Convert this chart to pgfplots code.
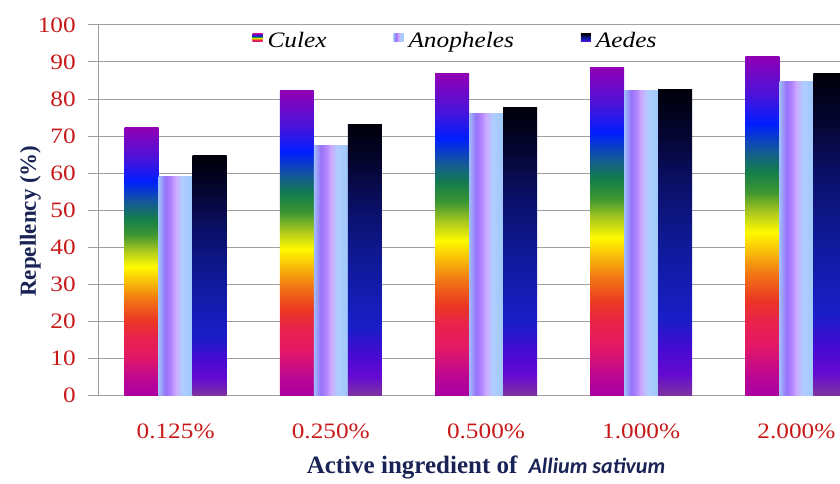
\documentclass[border=0pt]{standalone}
\usepackage{pgfplots}
\pgfplotsset{compat=1.18}
\usepackage{fontspec}
\setmainfont{Liberation Serif}
\newfontfamily\wideserif[FakeStretch=1.15]{Liberation Serif}
\newfontfamily\carlito{Carlito}

\definecolor{tickred}{RGB}{200,25,25}
\definecolor{navy}{RGB}{25,35,85}
\definecolor{gridgray}{RGB}{160,160,160}

\pgfdeclareverticalshading{culex}{100bp}{%
 color(0bp)=(rgb,255:red,170;green,0;blue,160);
 color(25bp)=(rgb,255:red,170;green,0;blue,160);
 color(27.5bp)=(rgb,255:red,185;green,5;blue,150);
 color(32.5bp)=(rgb,255:red,228;green,25;blue,100);
 color(36bp)=(rgb,255:red,232;green,35;blue,75);
 color(39bp)=(rgb,255:red,235;green,55;blue,35);
 color(43bp)=(rgb,255:red,242;green,120;blue,20);
 color(46bp)=(rgb,255:red,248;green,185;blue,10);
 color(49bp)=(rgb,255:red,255;green,250;blue,0);
 color(52bp)=(rgb,255:red,170;green,200;blue,30);
 color(55bp)=(rgb,255:red,60;green,150;blue,50);
 color(58bp)=(rgb,255:red,20;green,125;blue,75);
 color(61bp)=(rgb,255:red,20;green,90;blue,150);
 color(65bp)=(rgb,255:red,0;green,30;blue,255);
 color(69bp)=(rgb,255:red,70;green,20;blue,220);
 color(75bp)=(rgb,255:red,145;green,0;blue,180);
 color(100bp)=(rgb,255:red,145;green,0;blue,180)}

\pgfdeclarehorizontalshading{anoph}{100bp}{%
 color(0bp)=(rgb,255:red,160;green,190;blue,250);
 color(25bp)=(rgb,255:red,160;green,190;blue,250);
 color(35bp)=(rgb,255:red,150;green,115;blue,250);
 color(42.5bp)=(rgb,255:red,175;green,130;blue,255);
 color(50bp)=(rgb,255:red,205;green,170;blue,255);
 color(60bp)=(rgb,255:red,175;green,205;blue,255);
 color(75bp)=(rgb,255:red,160;green,200;blue,250);
 color(100bp)=(rgb,255:red,160;green,200;blue,250)}

\pgfdeclareverticalshading{aedes}{100bp}{%
 color(0bp)=(rgb,255:red,125;green,50;blue,160);
 color(25bp)=(rgb,255:red,125;green,50;blue,160);
 color(28.5bp)=(rgb,255:red,100;green,10;blue,210);
 color(32.5bp)=(rgb,255:red,70;green,10;blue,210);
 color(37.5bp)=(rgb,255:red,25;green,30;blue,200);
 color(50bp)=(rgb,255:red,15;green,25;blue,150);
 color(60bp)=(rgb,255:red,10;green,15;blue,100);
 color(67.5bp)=(rgb,255:red,5;green,5;blue,50);
 color(75bp)=(rgb,255:red,0;green,0;blue,10);
 color(100bp)=(rgb,255:red,0;green,0;blue,10)}

\pgfplotsset{
  sqlegend/.style={legend image code/.code={\draw[##1,draw=none] (0pt,-1pt) rectangle (10pt,7pt);}},
  culexbar/.style={ybar, bar width=34pt, bar shift=-34pt, shade, shading=culex, draw=none, sqlegend},
  anophbar/.style={ybar, bar width=34pt, bar shift=0pt, shade, shading=anoph, draw=none, sqlegend},
  aedesbar/.style={ybar, bar width=34pt, bar shift=34pt, shade, shading=aedes, draw=none, sqlegend},
}

\begin{document}
\begin{tikzpicture}
\useasboundingbox (0,0) rectangle (840pt,483pt);
\clip (0,0) rectangle (840pt,483pt);
\begin{axis}[
  at={(98pt,88pt)}, anchor=south west,
  scale only axis, width=776pt, height=370pt,
  xmin=-0.5, xmax=4.5, ymin=0, ymax=100,
  xtick={0,1,2,3,4},
  xticklabels={0.125\%,0.250\%,0.500\%,1.000\%,2.000\%},
  ytick={0,10,...,100},
  ymajorgrids, grid style={gridgray, line width=1pt},
  axis line style={gridgray, line width=1pt},
  ytick pos=left, tick align=outside, major tick length=10pt,
  ytick style={gridgray, line width=1pt},
  xtick style={draw=none},
  /pgf/number format/assume math mode=true,
  yticklabel style={font=\wideserif\fontsize{22}{26}\selectfont, text=tickred, anchor=east, inner sep=0pt, xshift=-12pt},
  xticklabel style={font=\wideserif\fontsize{22}{26}\selectfont, text=tickred, anchor=base, yshift=-33pt},
  xlabel={\fontsize{25}{30}\selectfont\bfseries Active ingredient of\hspace{0.45em}{\carlito\itshape\fontsize{22}{26}\selectfont Allium sativum}},
  xlabel style={at={(axis description cs:0.5,0)}, anchor=base, yshift=-78pt, text=navy, inner sep=0pt},
  ylabel={\fontsize{23}{28}\selectfont\bfseries Repellency (\%)},
  ylabel style={at={([xshift=-62pt]axis description cs:0,0.47)}, anchor=base, text=navy, inner sep=0pt},
  legend columns=3,
  legend style={at={(0.195,0.957)}, anchor=west, draw=none, fill=none,
    font=\wideserif\itshape\fontsize{22}{26}\selectfont,
    nodes={inner xsep=5pt},
    /tikz/every even column/.append style={column sep=62pt}},
]
% Culex
\addplot[culexbar] coordinates {(0,72.3)};
\addplot[culexbar, forget plot] coordinates {(1,82.2)};
\addplot[culexbar, forget plot] coordinates {(2,86.8)};
\addplot[culexbar, forget plot] coordinates {(3,88.6)};
\addplot[culexbar, forget plot] coordinates {(4,91.6)};
% Anopheles
\addplot[anophbar] coordinates {(0,59.0)};
\addplot[anophbar, forget plot] coordinates {(1,67.3)};
\addplot[anophbar, forget plot] coordinates {(2,76.2)};
\addplot[anophbar, forget plot] coordinates {(3,82.2)};
\addplot[anophbar, forget plot] coordinates {(4,84.7)};
% Aedes
\addplot[aedesbar] coordinates {(0,64.6)};
\addplot[aedesbar, forget plot] coordinates {(1,73.2)};
\addplot[aedesbar, forget plot] coordinates {(2,77.8)};
\addplot[aedesbar, forget plot] coordinates {(3,82.7)};
\addplot[aedesbar, forget plot] coordinates {(4,86.8)};
\legend{Culex,Anopheles,Aedes}
\end{axis}
\end{tikzpicture}
\end{document}
